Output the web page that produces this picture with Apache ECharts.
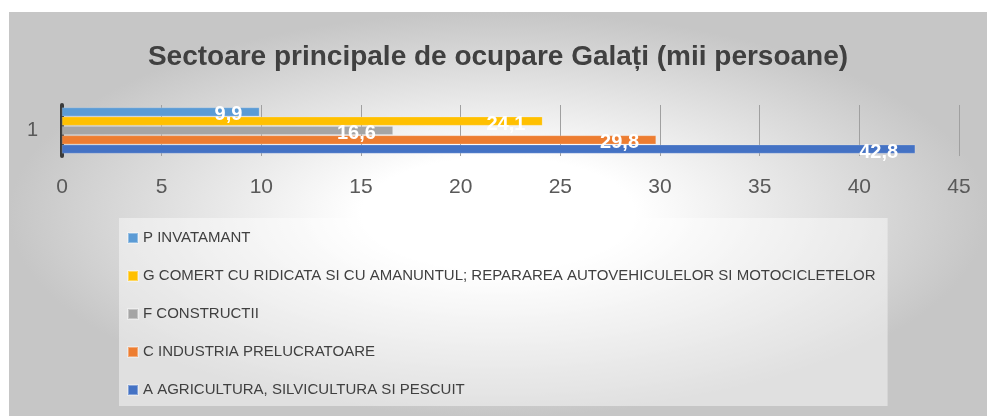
<!DOCTYPE html>
<html>
<head>
<meta charset="utf-8">
<title>Sectoare principale de ocupare Galați</title>
<script src="https://cdn.jsdelivr.net/npm/echarts@6.0.0/dist/echarts.min.js"></script>
<style>
    html, body { margin: 0; padding: 0; background: #fff; }
    #chart {
        position: absolute;
        left: 9px;
        top: 12px;
        width: 978px;
        height: 404px;
        background: radial-gradient(ellipse closest-side at 50% 50%, #ffffff 0%, #ffffff 28%, #c6c6c6 100%);
    }
</style>
</head>
<body>
<div id="chart"></div>
<script>
    // date (mii persoane), de sus in jos
    const categories = ['1'];
    const seriesNames = [
        'P INVATAMANT',
        'G COMERT CU RIDICATA SI CU AMANUNTUL; REPARAREA AUTOVEHICULELOR SI MOTOCICLETELOR',
        'F CONSTRUCTII',
        'C INDUSTRIA PRELUCRATOARE',
        'A AGRICULTURA, SILVICULTURA SI PESCUIT'
    ];
    const seriesValues = [9.9, 24.1, 16.6, 29.8, 42.8];
    const seriesColors = ['#5b9bd5', '#ffc000', '#a5a5a5', '#ed7d31', '#4472c4'];
    const xTicks = [0, 45, 5]; // min, max, pas

    const myChart = echarts.init(document.getElementById('chart'));

    const fontFam = '"Liberation Sans", Arial, sans-serif';

    let series = seriesNames.map((name, i) => {
        return {
            name: name,
            type: 'bar',
            data: [seriesValues[i]],
            barGap: '8%',
            barCategoryGap: '10%',
            itemStyle: {
                color: seriesColors[i],
                borderColor: 'rgba(255,255,255,0.35)',
                borderWidth: 0.5
            },
            label: {
                show: true,
                position: 'insideRight',
                distance: 17,
                offset: [0, 3],
                color: '#fff',
                fontSize: 20,
                fontWeight: 'bold',
                fontFamily: fontFam,
                formatter: function(p) {
                    return String(p.value).replace('.', ',')
                }
            }
        }
    });

    let option = {
        backgroundColor: 'transparent',
        animation: false,
        title: {
            text: 'Sectoare principale de ocupare Galați (mii persoane)',
            left: 'center',
            top: 26,
            textStyle: {
                color: '#404040',
                fontSize: 28,
                fontWeight: 'bold',
                fontFamily: fontFam
            }
        },
        legend: {
            orient: 'vertical',
            left: 110,
            top: 206,
            padding: [12, 12, 8, 8],
            itemGap: 22,
            itemWidth: 10,
            itemHeight: 10,
            icon: 'rect',
            backgroundColor: 'rgba(255,255,255,0.45)',
            data: seriesNames,
            textStyle: {
                color: '#404040',
                fontSize: 15,
                lineHeight: 16,
                fontFamily: fontFam
            }
        },
        grid: {
            left: 53,
            right: 28,
            top: 93,
            height: 51
        },
        xAxis: {
            type: 'value',
            min: xTicks[0],
            max: xTicks[1],
            interval: xTicks[2],
            axisLine: { show: false },
            axisTick: { show: false },
            splitLine: {
                show: true,
                lineStyle: { color: '#a0a0a0', width: 1 }
            },
            axisLabel: {
                color: '#595959',
                fontSize: 21,
                margin: 21,
                fontFamily: fontFam
            }
        },
        yAxis: {
            type: 'category',
            data: categories,
            axisTick: { show: false },
            axisLine: {
                show: true,
                lineStyle: { color: '#3a3a3a', width: 4 }
            },
            axisLabel: {
                color: '#595959',
                fontSize: 20,
                margin: 24,
                fontFamily: fontFam
            }
        },
        series: series
    };

    myChart.setOption(option);
</script>
</body>
</html>
